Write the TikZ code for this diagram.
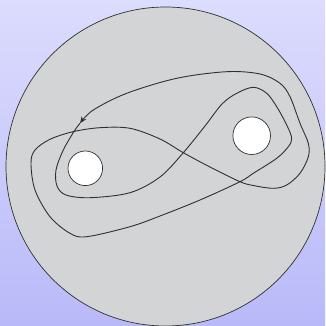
\documentclass[tikz,border=0pt]{standalone}
\usepackage{xcolor}
\definecolor{bgtop}{HTML}{DCDCFE}
\definecolor{bgbot}{HTML}{B9B9F9}
\definecolor{discgray}{HTML}{D3D4D5}
\definecolor{inkgray}{HTML}{303030}
\usetikzlibrary{arrows.meta}
\tikzset{
  disc/.style={fill=discgray, draw=inkgray, line width=0.7pt},
  hole/.style={circle, fill=white, draw=inkgray, line width=0.7pt, inner sep=0pt},
  loopline/.style={draw=inkgray, line width=0.9pt},
  ar/.style={-{Stealth[length=7pt,width=5.5pt]}},
}
\begin{document}
\begin{tikzpicture}[x=1pt, y=-1pt]
  \shade[top color=bgtop, bottom color=bgbot] (0,0) rectangle (325,326);
  \useasboundingbox (0,0) rectangle (325,326);
  \draw[disc] (165.5,166.5) circle[radius=159.5];
  \node[hole, minimum size=34.6pt] (hl) at (85.3,168.3) {};
  \node[hole, minimum size=37.6pt] (hr) at (251.7,135.7) {};
  % the oriented loop
  \draw[loopline, ar] plot[smooth, tension=0.55] coordinates {
    (80,123.3) (74.3,131) (63.3,150) (56,170) (57,186) (66,195)
    (90,197.7) (130,192.7) (160,177) (183.3,152.7) (205,126) (222,104)
    (236.7,93.3) (253.3,87.3) (266.7,93.3) (276.7,106.7) (286.7,125)
    (291.7,138.3) (288.3,146.7) (276.7,158.3) (253.3,173.3) (240,181.7)
    (200,200) (160,216) (130,226.7) (86.7,236.7) (70,233.3) (50,216.7)
    (35,190) (31,163.3) (35,150) (50,139.3) (73,131.7) (100,127.7)
    (130,128.3) (160,139) (183.3,152.7) (210,167) (240,181.7) (253.3,185.5)
    (273.3,188.3) (286.7,185) (300,173.3) (308.3,156.7) (308.3,143.3)
    (300,123.3) (290,96.7) (280,83.3) (260,74) (226.7,71.7) (176.7,78.3)
    (126.7,93.3) (93.3,110) (80,123.3)};
\end{tikzpicture}
\end{document}
